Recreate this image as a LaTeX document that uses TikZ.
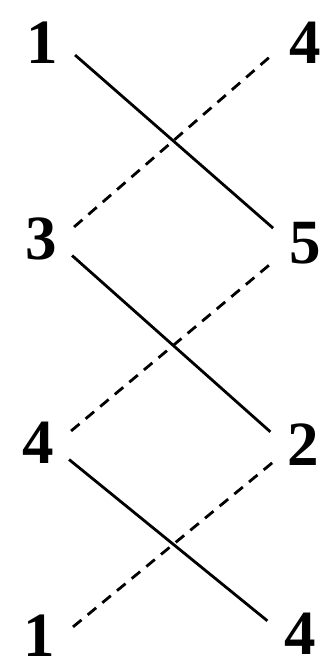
\documentclass[tikz,border=0pt]{standalone}
\usepackage{fontspec}
\setmainfont{Liberation Serif}
\usepackage{tikz}
\usetikzlibrary{positioning}

\begin{document}
\begin{tikzpicture}[
      x=1pt, y=-1pt,
      num/.style={circle, minimum size=70pt, inner sep=0pt,
        font=\fontsize{63}{63}\selectfont\bfseries},
      solidlink/.style={line width=2.8pt, black},
      dashlink/.style={line width=2.8pt, black, dash pattern=on 11pt off 8pt}
    ]
    \useasboundingbox (0,0) rectangle (323,669);

    % left column
    \node[num] (l1) at (42,43)  {1};
    \node[num] (l2) at (41,239) {3};
    \node[num] (l3) at (38,443) {4};
    \node[num] (l4) at (39,636) {1};

    % right column
    \node[num] (r1) at (305,43)  {4};
    \node[num] (r2) at (305,243) {5};
    \node[num] (r3) at (303,445) {2};
    \node[num] (r4) at (300,634) {4};

    \draw[solidlink] (l1.-20) -- (r2.155);
    \draw[dashlink]  (l2.20)  -- (r1.-160);
    \draw[solidlink] (l2.-28) -- (r3.158);
    \draw[dashlink]  (l3.20)  -- (r2.-150);
    \draw[solidlink] (l3.-28) -- (r4.158);
    \draw[dashlink]  (l4.15)  -- (r3.-150);
  \end{tikzpicture}
\end{document}
